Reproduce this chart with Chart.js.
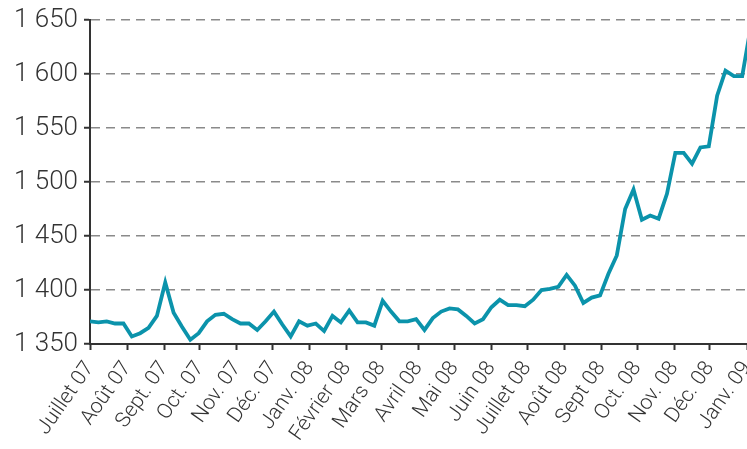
<!DOCTYPE html>
<html>
<head>
<meta charset="utf-8">
<script src="https://cdn.jsdelivr.net/npm/chart.js@4/dist/chart.umd.min.js"></script>
<style>
  html, body { margin: 0; padding: 0; background: #fff; overflow: hidden; }
  canvas { display: block; }
</style>
</head>
<body>
<canvas id="chart" width="747" height="449"></canvas>
<script>
// mois affichés sous l'axe (début de chaque mois)
var monthLabels = [
  "Juillet 07", "Août 07", "Sept. 07", "Oct. 07", "Nov. 07", "Déc. 07",
  "Janv. 08", "Février 08", "Mars 08", "Avril 08", "Mai 08", "Juin 08",
  "Juillet 08", "Août 08", "Sept 08", "Oct. 08", "Nov. 08", "Déc. 08", "Janv. 09"
];

// valeurs hebdomadaires à partir du 1er juillet 2007
var weeklyValues = [
  1371, 1370, 1371, 1369, 1369, 1357, 1360, 1365, 1376, 1407,
  1379, 1366, 1354, 1360, 1371, 1377, 1378, 1373, 1369, 1369,
  1363, 1371, 1380, 1368, 1357, 1371, 1367, 1369, 1362, 1376,
  1370, 1381, 1370, 1370, 1367, 1390, 1380, 1371, 1371, 1373,
  1363, 1374, 1380, 1383, 1382, 1376, 1369, 1373, 1384, 1391,
  1386, 1386, 1385, 1391, 1400, 1401, 1403, 1414, 1404, 1388,
  1393, 1395, 1415, 1432, 1475, 1493, 1465, 1469, 1466, 1489,
  1527, 1527, 1517, 1532, 1533, 1580, 1603, 1598, 1598, 1643
];

var yMin = 1350, yMax = 1650, yStep = 50;

var start = new Date(2007, 6, 1);
function dayOffset(d) { return Math.round((d - start) / 86400000); }
var monthStarts = monthLabels.map(function(_, m) { return dayOffset(new Date(2007, 6 + m, 1)); });
var points = weeklyValues.map(function(v, i) { return { x: i * 7, y: v }; });

var textColor = "#333";
var fontFamily = "Roboto, 'Liberation Sans', sans-serif";

var ctx = document.getElementById("chart").getContext("2d");
var chart = new Chart(ctx, {
  type: "line",
  data: {
    datasets: [{
      data: points,
      borderColor: "#0b93ab",
      borderWidth: 3.8,
      pointRadius: 0,
      tension: 0,
      fill: false
    }]
  },
  options: {
    responsive: false,
    animation: false,
    devicePixelRatio: 1,
    layout: { padding: { top: 20, right: 0, bottom: 0, left: 0 } },
    plugins: { legend: { display: false }, tooltip: { enabled: false } },
    scales: {
      x: {
        type: "linear",
        min: monthStarts[0],
        max: monthStarts[monthStarts.length - 1],
        afterBuildTicks: function(scale) {
          scale.ticks = monthStarts.map(function(v) { return { value: v }; });
        },
        afterFit: function(scale) {
          scale.height = 105;
          scale.paddingRight = 0;
          scale.paddingLeft = 0;
        },
        ticks: {
          autoSkip: false,
          minRotation: 55,
          maxRotation: 55,
          padding: 7,
          color: textColor,
          font: { family: fontFamily, size: 21, weight: "300" },
          callback: function(value, index) { return monthLabels[index]; }
        },
        grid: {
          drawOnChartArea: false,
          drawTicks: true,
          tickLength: 6,
          tickColor: "#333",
          tickWidth: 2
        },
        border: { display: true, color: "#333", width: 2 }
      },
      y: {
        min: yMin,
        max: yMax,
        afterFit: function(scale) {
          scale.width = 90;
          scale.paddingTop = 0;
          scale.paddingBottom = 0;
        },
        ticks: {
          stepSize: yStep,
          padding: 6,
          color: textColor,
          font: { family: fontFamily, size: 26, weight: "300" },
          callback: function(v) {
            return Math.floor(v / 1000) + " " + String(v % 1000).padStart(3, "0");
          }
        },
        grid: {
          color: "#8a8a8a",
          lineWidth: 1.5,
          drawTicks: true,
          tickLength: 6,
          tickColor: "#333",
          tickWidth: 2
        },
        border: { display: true, color: "#333", width: 2, dash: [9, 6] }
      }
    }
  }
});
</script>
</body>
</html>
